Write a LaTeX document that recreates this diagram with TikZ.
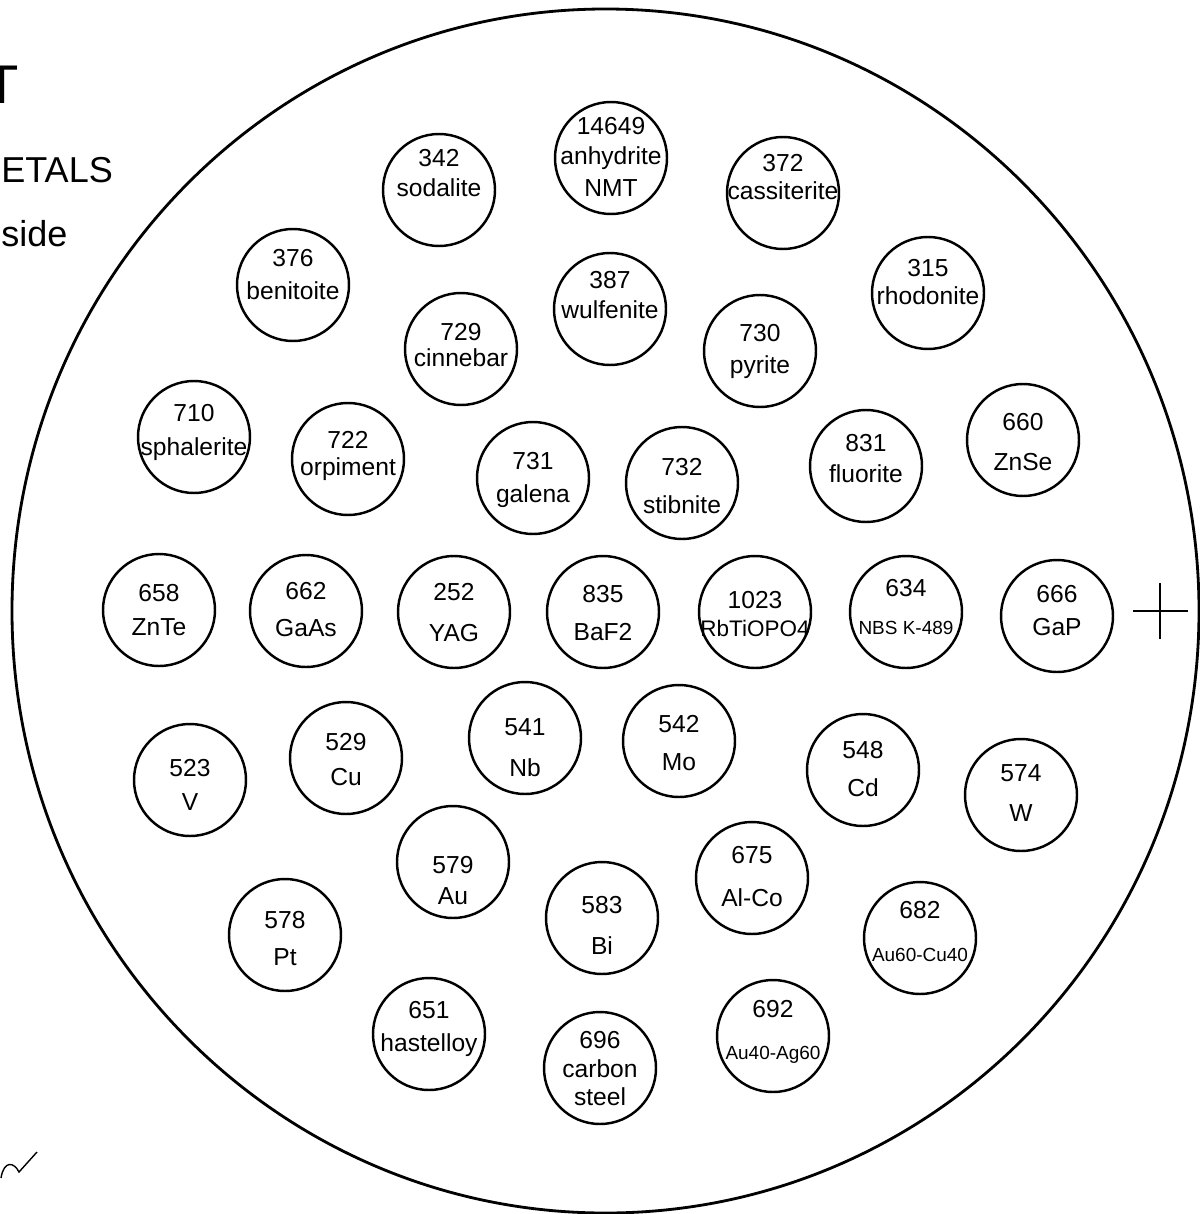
\documentclass[tikz,border=0pt]{standalone}
\usepackage{fontspec}
\setmainfont{Liberation Sans}
\newcommand\smallname{\fontsize{10.8}{12}\selectfont}
\newcommand\midname{\fontsize{12.8}{15}\selectfont}
\begin{document}
\begin{tikzpicture}[x=0.2mm, y=-0.2mm,
    every node/.style={font=\fontsize{14}{16}\selectfont},
    disc/.style={circle, draw, line width=1.4pt, minimum size=22.4mm, inner sep=0pt},
    txt/.style={anchor=base, inner sep=0pt},
    head/.style={anchor=base west, inner sep=0pt, font=\fontsize{20.5}{24}\selectfont}]
    \useasboundingbox (0,0) rectangle (1200,1214);
    \clip (0,0) rectangle (1200,1214);
    % holder outline
    \draw[line width=1.6pt] (605.5,611) ellipse [x radius=593.5, y radius=602];
    % samples: number / centre / number line / name line / name
    \foreach \id/\cx/\cy/\ya/\yb/\name in {
        342/439/190/158/188/sodalite, 14649/611/158/127/156/anhydrite,
        372/783/193/163/191/cassiterite, 376/293/285/258/291/benitoite,
        387/610/309/280/310/wulfenite, 315/928/293/268/296/rhodonite,
        729/461/349/332/358/cinnebar, 730/760/351/333/365/pyrite,
        710/194/437/413/447/sphalerite, 722/348/459/440/467/orpiment,
        731/533/478/461/494/galena, 732/682/483/467/505/stibnite,
        831/866/466/443/474/fluorite, 660/1023/440/422/462/ZnSe,
        658/159/610/593/627/ZnTe, 662/306/611/591/628/GaAs,
        252/454/612/592/633/YAG, 835/603/612/594/632/BaF2,
        1023/755/612/600/628/{\midname RbTiOPO4}, 634/906/612/588/626/{\smallname NBS K-489},
        666/1057/616/594/627/GaP, 523/190/780/768/802/V,
        529/346/758/742/777/Cu, 541/525/738/727/768/Nb,
        542/679/741/724/762/Mo, 548/863/770/750/788/Cd,
        574/1021/795/773/813/W, 579/453/862/865/896/Au,
        578/285/935/920/957/Pt, 583/602/918/905/946/Bi,
        675/752/878/855/898/Al-Co, 682/920/938/910/953/{\smallname Au60-Cu40},
        651/429/1034/1010/1043/hastelloy, 696/600/1068/1040/1069/carbon,
        692/773/1036/1009/1051/{\smallname Au40-Ag60}}
    {
        \node[disc] (s\id) at (\cx,\cy) {};
        \node[txt] (n\id) at (\cx,\ya+8) {\id};
        \node[txt] (l\id) at (\cx,\yb+8) {\name};
    }
    \node[txt] (l14649b) at (611,196) {NMT};
    \node[txt] (l696b) at (600,1105) {steel};
    % alignment mark
    \draw[line width=0.7pt] (1133,611) -- (1188,611);
    \draw[line width=0.7pt] (1160,583) -- (1160,639);
    % page heading, cut at the left
    \node[anchor=base, inner sep=0pt, font=\fontsize{31}{36}\selectfont] (tT) at (2,103) {T};
    \node[head] (tmetals) at (1,182) {ETALS};
    \node[head] (tside) at (1,246) {side};
    \draw[line width=0.8pt] (1,1178) .. controls (4,1160) and (14,1162) .. (19,1172) -- (37,1152);
\end{tikzpicture}
\end{document}
